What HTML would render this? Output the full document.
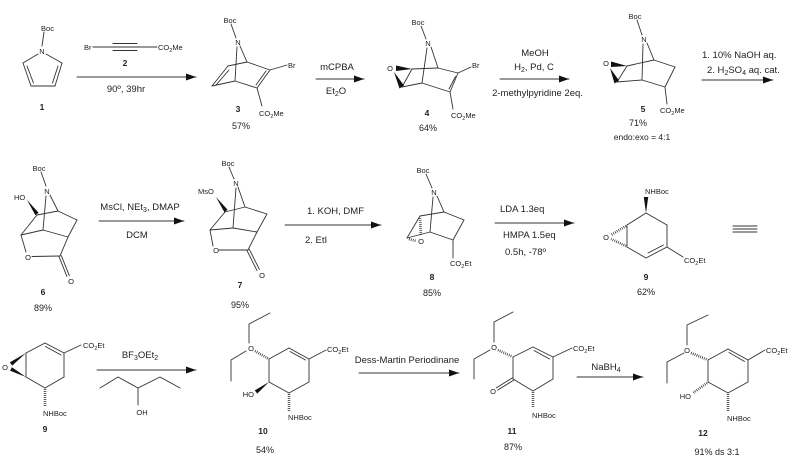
<!DOCTYPE html>
<html><head><meta charset="utf-8"><style>
html,body{margin:0;padding:0;background:#fff;}
svg{display:block;}
text{font-family:"Liberation Sans",Arial,sans-serif;fill:#222;}
.a{font-size:7.5px;}
.r{font-size:9.5px;}
.n{font-size:8.5px;font-weight:bold;}
.y{font-size:9px;}
</style></head><body>
<svg width="800" height="472" viewBox="0 0 800 472" xmlns="http://www.w3.org/2000/svg">
<defs>
<marker id="ar" markerWidth="10" markerHeight="7" refX="10" refY="3.5" orient="auto" markerUnits="userSpaceOnUse">
<path d="M0,0 L10,3.5 L0,7 z" fill="#111"/></marker>
</defs>
<g stroke="#333" stroke-width="0.9" fill="none" stroke-linecap="round">
<!-- compound 1 -->
<line x1="44" y1="32" x2="42" y2="46"/>
<line x1="38" y1="54" x2="23" y2="63"/><line x1="46" y1="54" x2="62" y2="63"/>
<line x1="23" y1="63" x2="31" y2="86"/><line x1="62" y1="63" x2="55" y2="86"/>
<line x1="31" y1="86" x2="55" y2="86"/>
<line x1="27" y1="66" x2="33.5" y2="83"/><line x1="58" y1="66" x2="52.5" y2="83"/>
<!-- compound 2 -->
<line x1="93" y1="47" x2="157" y2="47"/>
<line x1="113" y1="43.5" x2="137" y2="43.5"/><line x1="113" y1="50.5" x2="137" y2="50.5"/>
<!-- arrow 1 -->
<line x1="77" y1="77" x2="196" y2="77" marker-end="url(#ar)"/>
<!-- compound 3 -->
<line x1="231" y1="24" x2="236" y2="38"/>
<line x1="240" y1="46" x2="247" y2="62"/><line x1="237" y1="47" x2="235" y2="81"/>
<line x1="228" y1="66" x2="247" y2="62"/><line x1="212" y1="86" x2="235" y2="81"/>
<line x1="212" y1="86" x2="228" y2="66"/><line x1="216" y1="85" x2="229" y2="70"/>
<line x1="247" y1="62" x2="270" y2="70"/><line x1="235" y1="81" x2="257" y2="88"/>
<line x1="270" y1="70" x2="257" y2="88"/><line x1="266" y1="71" x2="256" y2="85"/>
<line x1="270" y1="70" x2="287" y2="65"/>
<line x1="257" y1="88" x2="262" y2="106"/>
<!-- arrow 2 -->
<line x1="316" y1="79" x2="364" y2="79" marker-end="url(#ar)"/>
<!-- compound 4 -->
<line x1="421" y1="26" x2="426" y2="39"/>
<line x1="431" y1="47" x2="438" y2="68"/><line x1="427" y1="48" x2="422" y2="83"/>
<line x1="412" y1="69" x2="438" y2="68"/><line x1="402" y1="87" x2="422" y2="83"/>
<line x1="412" y1="69" x2="402" y2="87"/>
<line x1="438" y1="68" x2="458" y2="73"/><line x1="458" y1="73" x2="471" y2="67"/>
<line x1="458" y1="73" x2="450" y2="92"/><line x1="455.5" y1="76.5" x2="449" y2="89"/>
<line x1="450" y1="92" x2="422" y2="83"/>
<line x1="450" y1="92" x2="453" y2="109"/>
<!-- arrow 3 -->
<line x1="500" y1="79" x2="569" y2="79" marker-end="url(#ar)"/>
<!-- compound 5 -->
<line x1="637" y1="20" x2="642" y2="35"/>
<line x1="647" y1="43" x2="654" y2="60"/><line x1="643" y1="44" x2="642" y2="80"/>
<line x1="627" y1="66" x2="654" y2="60"/><line x1="617" y1="82" x2="642" y2="80"/>
<line x1="627" y1="66" x2="617" y2="82"/>
<line x1="654" y1="60" x2="675" y2="67"/><line x1="675" y1="67" x2="665" y2="87"/>
<line x1="665" y1="87" x2="642" y2="80"/><line x1="665" y1="87" x2="667" y2="104"/>
<!-- arrow 4 -->
<line x1="702" y1="80" x2="773" y2="80" marker-end="url(#ar)"/>

<!-- compound 6 -->
<line x1="41" y1="172" x2="46" y2="186"/>
<line x1="50" y1="195" x2="58" y2="211"/><line x1="46" y1="196" x2="43" y2="230"/>
<line x1="37" y1="215" x2="58" y2="211"/><line x1="58" y1="211" x2="77" y2="220"/>
<line x1="77" y1="220" x2="68" y2="237"/><line x1="68" y1="237" x2="43" y2="230"/>
<line x1="37" y1="215" x2="21" y2="235"/><line x1="21" y1="235" x2="43" y2="230"/>
<line x1="21" y1="235" x2="26" y2="252"/><line x1="32" y1="256.5" x2="60" y2="256"/>
<line x1="60" y1="256" x2="68" y2="237"/>
<line x1="58.9" y1="256.4" x2="66.9" y2="276.4"/><line x1="61.3" y1="255.6" x2="69.3" y2="275.6"/>
<!-- arrow -->
<line x1="99" y1="221" x2="184" y2="221" marker-end="url(#ar)"/>
<!-- compound 7 -->
<line x1="229" y1="167" x2="234" y2="179"/>
<line x1="238" y1="187" x2="245" y2="207"/><line x1="236" y1="188" x2="233" y2="228"/>
<line x1="225" y1="212" x2="245" y2="207"/><line x1="245" y1="207" x2="267" y2="214"/>
<line x1="267" y1="214" x2="257" y2="232"/><line x1="257" y1="232" x2="233" y2="228"/>
<line x1="233" y1="228" x2="210" y2="230"/><line x1="225" y1="212" x2="210" y2="230"/>
<line x1="210" y1="230" x2="213" y2="246"/><line x1="219" y1="250" x2="248" y2="250"/>
<line x1="248" y1="250" x2="257" y2="232"/>
<line x1="247" y1="250.6" x2="257" y2="270.6"/><line x1="249.4" y1="249.4" x2="259.4" y2="269.4"/>
<!-- arrow -->
<line x1="285" y1="225" x2="381" y2="225" marker-end="url(#ar)"/>
<!-- compound 8 -->
<line x1="426" y1="174" x2="432" y2="188"/>
<line x1="437" y1="196" x2="444" y2="212"/><line x1="433" y1="197" x2="430" y2="232"/>
<line x1="420" y1="216" x2="444" y2="212"/><line x1="407" y1="238" x2="430" y2="232"/>
<line x1="420" y1="216" x2="407" y2="238"/>
<line x1="444" y1="212" x2="464" y2="220"/><line x1="464" y1="220" x2="453" y2="240"/>
<line x1="453" y1="240" x2="430" y2="232"/><line x1="453" y1="240" x2="453" y2="258"/>
<!-- arrow -->
<line x1="495" y1="223" x2="574" y2="223" marker-end="url(#ar)"/>
<!-- compound 9 -->
<line x1="646" y1="213" x2="667" y2="225"/><line x1="667" y1="225" x2="667" y2="247"/>
<line x1="667" y1="247" x2="646" y2="258"/><line x1="663.5" y1="245" x2="648" y2="253"/>
<line x1="646" y1="258" x2="627" y2="247"/><line x1="627" y1="247" x2="627" y2="225"/>
<line x1="627" y1="225" x2="646" y2="213"/>
<line x1="667" y1="247" x2="683" y2="257"/>
<!-- identity -->
<line x1="733" y1="226" x2="757" y2="226"/><line x1="733" y1="229" x2="757" y2="229"/><line x1="733" y1="232" x2="757" y2="232"/>

<!-- row 3 compound 9 -->
<line x1="45" y1="343" x2="64" y2="353"/><line x1="45.5" y1="346.5" x2="61" y2="355"/>
<line x1="64" y1="353" x2="64" y2="377"/><line x1="64" y1="377" x2="45" y2="388"/>
<line x1="45" y1="388" x2="26" y2="377"/><line x1="26" y1="377" x2="26" y2="353"/>
<line x1="26" y1="353" x2="45" y2="343"/>
<line x1="64" y1="353" x2="81" y2="345"/>
<!-- arrow -->
<line x1="97" y1="370" x2="196" y2="370" marker-end="url(#ar)"/>
<polyline points="100,388 118,377 138,388 160,377 180,388"/>
<line x1="138" y1="388" x2="138" y2="405"/>
<!-- compound 10 -->
<polyline points="270,313 249,324 249,343"/>
<polyline points="246,351 231,360 231,381"/>
<line x1="269" y1="359" x2="289" y2="348"/><line x1="289" y1="348" x2="309" y2="359"/>
<line x1="290" y1="351.5" x2="305.5" y2="360"/>
<line x1="309" y1="359" x2="309" y2="382"/><line x1="309" y1="382" x2="289" y2="393"/>
<line x1="289" y1="393" x2="269" y2="382"/><line x1="269" y1="382" x2="269" y2="359"/>
<line x1="309" y1="359" x2="326" y2="350"/>
<!-- arrow -->
<line x1="359" y1="373" x2="459" y2="373" marker-end="url(#ar)"/>
<!-- compound 11 -->
<polyline points="513,312 494,322 494,342"/>
<polyline points="490,350 474,359 474,379"/>
<line x1="513" y1="357" x2="533" y2="347"/><line x1="533" y1="347" x2="553" y2="357"/>
<line x1="534" y1="350.5" x2="549.5" y2="359"/>
<line x1="553" y1="357" x2="553" y2="379"/><line x1="553" y1="379" x2="533" y2="391"/>
<line x1="533" y1="391" x2="513" y2="379"/><line x1="513" y1="379" x2="513" y2="357"/>
<line x1="513.7" y1="380.1" x2="497.7" y2="390.1"/><line x1="512.3" y1="377.9" x2="496.3" y2="387.9"/>
<line x1="553" y1="357" x2="572" y2="348"/>
<!-- arrow -->
<line x1="577" y1="377" x2="643" y2="377" marker-end="url(#ar)"/>
<!-- compound 12 -->
<polyline points="708,315 687,325 687,345"/>
<polyline points="684,353 667,362 667,383"/>
<line x1="708" y1="360" x2="728" y2="349"/><line x1="728" y1="349" x2="748" y2="360"/>
<line x1="729" y1="352.5" x2="744.5" y2="361.5"/>
<line x1="748" y1="360" x2="748" y2="382"/><line x1="748" y1="382" x2="728" y2="393"/>
<line x1="728" y1="393" x2="708" y2="382"/><line x1="708" y1="382" x2="708" y2="360"/>
<line x1="748" y1="360" x2="765" y2="350"/>
</g>

<!-- bold wedges -->
<g fill="#111" stroke="none">
<polygon points="412,69 396,65.5 396,71"/>
<polygon points="394,72 399.5,88.5 404,85.5"/>
<polygon points="627,66 611,61.5 611,67"/>
<polygon points="610,68 614.5,83.5 619,80.5"/>
<polygon points="27,200 35.4,215.2 38.6,212.8"/>
<polygon points="216,197 224.4,212.2 227.6,209.8"/>
<polygon points="646,213 643.8,197 648.2,197"/>
<polygon points="26,353 9.8,362.4 12.2,365.6"/>
<polygon points="26,377 11.9,367.2 10.1,370.8"/>
<polygon points="269,382 254.8,390.4 257.2,393.6"/>
</g>

<!-- hashed wedges -->
<g stroke="#222" stroke-width="2.6" stroke-dasharray="0.7 1.3" fill="none">
<line x1="420" y1="218" x2="421" y2="236"/>
<line x1="409" y1="239" x2="416" y2="241"/>
<line x1="626" y1="226" x2="611" y2="235"/>
<line x1="626" y1="246" x2="611" y2="239"/>
<line x1="45" y1="389" x2="45" y2="406"/>
<line x1="255" y1="351" x2="268" y2="358.5"/>
<line x1="289" y1="394" x2="289" y2="411"/>
<line x1="498" y1="350" x2="512" y2="356.5"/>
<line x1="533" y1="392" x2="533" y2="408"/>
<line x1="691" y1="353" x2="707" y2="359.5"/>
<line x1="707" y1="383" x2="693" y2="393"/>
<line x1="728" y1="394" x2="728" y2="411"/>
</g>

<!-- labels -->
<g class="a">
<text x="47.5" y="31" text-anchor="middle">Boc</text>
<text x="42" y="54" text-anchor="middle">N</text>
<text x="84" y="50">Br</text>
<text x="158" y="50">CO<tspan font-size="5.5" dy="2">2</tspan><tspan dy="-2">Me</tspan></text>
<text x="230" y="23" text-anchor="middle">Boc</text>
<text x="238" y="45" text-anchor="middle">N</text>
<text x="288" y="68">Br</text>
<text x="259" y="116">CO<tspan font-size="5.5" dy="2">2</tspan><tspan dy="-2">Me</tspan></text>
<text x="418" y="25" text-anchor="middle">Boc</text>
<text x="428" y="46" text-anchor="middle">N</text>
<text x="390" y="71" text-anchor="middle">O</text>
<text x="472" y="68">Br</text>
<text x="451" y="118">CO<tspan font-size="5.5" dy="2">2</tspan><tspan dy="-2">Me</tspan></text>
<text x="635" y="19" text-anchor="middle">Boc</text>
<text x="644" y="42" text-anchor="middle">N</text>
<text x="606" y="66" text-anchor="middle">O</text>
<text x="660" y="113">CO<tspan font-size="5.5" dy="2">2</tspan><tspan dy="-2">Me</tspan></text>

<text x="39" y="171" text-anchor="middle">Boc</text>
<text x="47" y="194" text-anchor="middle">N</text>
<text x="14" y="200">HO</text>
<text x="28" y="260" text-anchor="middle">O</text>
<text x="71" y="284" text-anchor="middle">O</text>
<text x="228" y="166" text-anchor="middle">Boc</text>
<text x="236" y="186" text-anchor="middle">N</text>
<text x="198" y="194">MsO</text>
<text x="216" y="253" text-anchor="middle">O</text>
<text x="262" y="278" text-anchor="middle">O</text>
<text x="423" y="173" text-anchor="middle">Boc</text>
<text x="434" y="195" text-anchor="middle">N</text>
<text x="421" y="244" text-anchor="middle">O</text>
<text x="450" y="266">CO<tspan font-size="5.5" dy="2">2</tspan><tspan dy="-2">Et</tspan></text>
<text x="645" y="194">NHBoc</text>
<text x="606" y="240" text-anchor="middle">O</text>
<text x="684" y="263">CO<tspan font-size="5.5" dy="2">2</tspan><tspan dy="-2">Et</tspan></text>

<text x="83" y="348">CO<tspan font-size="5.5" dy="2">2</tspan><tspan dy="-2">Et</tspan></text>
<text x="5" y="370" text-anchor="middle">O</text>
<text x="43" y="416">NHBoc</text>
<text x="142" y="415" text-anchor="middle">OH</text>
<text x="251" y="351" text-anchor="middle">O</text>
<text x="327" y="352">CO<tspan font-size="5.5" dy="2">2</tspan><tspan dy="-2">Et</tspan></text>
<text x="254" y="397" text-anchor="end">HO</text>
<text x="288" y="420">NHBoc</text>
<text x="494" y="350" text-anchor="middle">O</text>
<text x="493" y="394" text-anchor="middle">O</text>
<text x="573" y="351">CO<tspan font-size="5.5" dy="2">2</tspan><tspan dy="-2">Et</tspan></text>
<text x="532" y="418">NHBoc</text>
<text x="687" y="353" text-anchor="middle">O</text>
<text x="766" y="353">CO<tspan font-size="5.5" dy="2">2</tspan><tspan dy="-2">Et</tspan></text>
<text x="691" y="399" text-anchor="end">HO</text>
<text x="727" y="421">NHBoc</text>
</g>

<!-- reagents -->
<g class="r">
<text x="126" y="92" text-anchor="middle">90º, 39hr</text>
<text x="337" y="70" text-anchor="middle">mCPBA</text>
<text x="336" y="94" text-anchor="middle">Et<tspan font-size="7" dy="2">2</tspan><tspan dy="-2">O</tspan></text>
<text x="535" y="56" text-anchor="middle">MeOH</text>
<text x="534" y="70" text-anchor="middle">H<tspan font-size="7" dy="2">2</tspan><tspan dy="-2">, Pd, C</tspan></text>
<text x="537.5" y="96" text-anchor="middle">2-methylpyridine 2eq.</text>
<text x="702" y="58">1. 10% NaOH aq.</text>
<text x="707" y="73">2. H<tspan font-size="7" dy="2">2</tspan><tspan dy="-2">SO</tspan><tspan font-size="7" dy="2">4</tspan><tspan dy="-2"> aq. cat.</tspan></text>
<text x="140" y="210" text-anchor="middle">MsCl, NEt<tspan font-size="7" dy="2">3</tspan><tspan dy="-2">, DMAP</tspan></text>
<text x="137" y="238" text-anchor="middle">DCM</text>
<text x="307" y="214">1. KOH, DMF</text>
<text x="305" y="243">2. EtI</text>
<text x="500" y="212">LDA 1.3eq</text>
<text x="503" y="238">HMPA 1.5eq</text>
<text x="505" y="255">0.5h, -78º</text>
<text x="140" y="358" text-anchor="middle">BF<tspan font-size="7" dy="2">3</tspan><tspan dy="-2">OEt</tspan><tspan font-size="7" dy="2">2</tspan></text>
<text x="407" y="363" text-anchor="middle">Dess-Martin Periodinane</text>
<text x="606" y="370" text-anchor="middle">NaBH<tspan font-size="7" dy="2">4</tspan></text>
</g>

<!-- compound numbers -->
<g class="n">
<text x="42" y="110" text-anchor="middle">1</text>
<text x="125" y="66" text-anchor="middle">2</text>
<text x="238" y="112" text-anchor="middle">3</text>
<text x="427" y="116" text-anchor="middle">4</text>
<text x="643" y="112" text-anchor="middle">5</text>
<text x="43" y="295" text-anchor="middle">6</text>
<text x="240" y="288" text-anchor="middle">7</text>
<text x="432" y="280" text-anchor="middle">8</text>
<text x="646" y="280" text-anchor="middle">9</text>
<text x="45" y="432" text-anchor="middle">9</text>
<text x="263" y="434" text-anchor="middle">10</text>
<text x="512" y="434" text-anchor="middle">11</text>
<text x="703" y="436" text-anchor="middle">12</text>
</g>
<g class="y">
<text x="241" y="129" text-anchor="middle">57%</text>
<text x="428" y="131" text-anchor="middle">64%</text>
<text x="638" y="126" text-anchor="middle">71%</text>
<text x="642" y="140" text-anchor="middle" font-size="8.5">endo:exo = 4:1</text>
<text x="43" y="311" text-anchor="middle">89%</text>
<text x="240" y="308" text-anchor="middle">95%</text>
<text x="432" y="296" text-anchor="middle">85%</text>
<text x="646" y="295" text-anchor="middle">62%</text>
<text x="265" y="453" text-anchor="middle">54%</text>
<text x="513" y="450" text-anchor="middle">87%</text>
<text x="717" y="455" text-anchor="middle">91% ds 3:1</text>
</g>
</svg>
</body></html>
